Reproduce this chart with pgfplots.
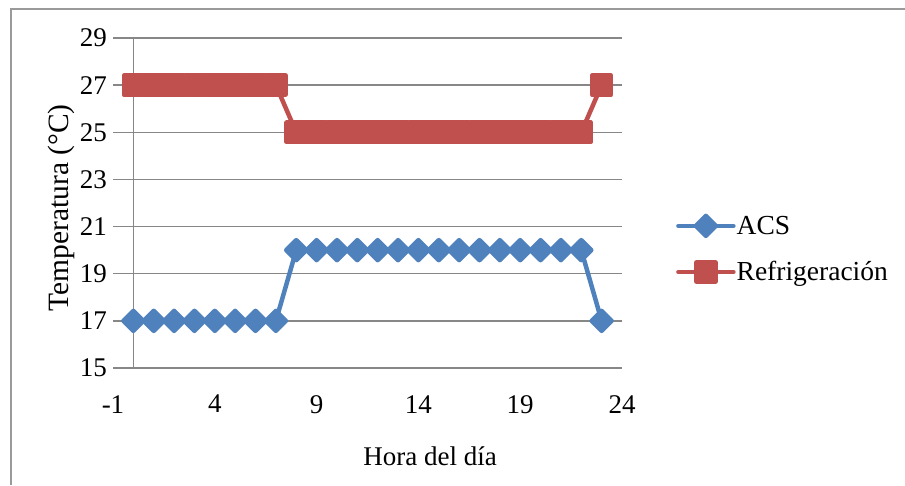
\documentclass[border=0pt]{standalone}
\usepackage{pgfplots}
\pgfplotsset{compat=1.18}
\usepackage{fontspec}
\setmainfont{Liberation Serif}
\definecolor{acs}{HTML}{4F81BD}
\definecolor{ref}{HTML}{C0504D}
\definecolor{gridc}{HTML}{878787}
\definecolor{framec}{HTML}{9A9A9A}
\begin{document}
\begin{tikzpicture}[x=1pt,y=1pt]
\useasboundingbox (0,0) rectangle (905,485);
\draw[framec, line width=1.2pt] (11,0) -- (11,476) -- (905,476);
\begin{axis}[
  at={(113pt,117pt)}, anchor=south west,
  scale only axis, width=509pt, height=330pt,
  xmin=-1, xmax=24, ymin=15, ymax=29,
  xtick={-1,4,9,14,19,24}, xticklabels={-1,4,9,14,19,24},
  ytick={15,17,19,21,23,25,27,29}, yticklabels={15,17,19,21,23,25,27,29},
  axis line style={draw=none},
  major tick length=0pt,
  ymajorgrids, grid style={gridc, line width=1.5pt},
  font=\fontsize{27}{30}\selectfont,
  yticklabel style={anchor=east, inner sep=0pt, xshift=-6pt},
  xticklabel style={anchor=north, inner sep=0pt, yshift=-27pt},
  xlabel={Hora del día},
  ylabel={Temperatura (°C)},
  xlabel style={at={(axis description cs:0.623,-0.268)}, anchor=center, inner sep=0pt, font=\fontsize{27}{30}\selectfont},
  ylabel style={at={(axis description cs:-0.102,0.485)}, anchor=center, inner sep=0pt, font=\fontsize{29.5}{30}\selectfont},
  clip=false,
  legend style={at={(1.106,0.354)}, anchor=west, draw=none, fill=none, inner sep=0pt,
    row sep=22pt, column sep=1pt,
    nodes={inner sep=0pt, text height=18pt, text depth=6pt},
    font=\fontsize{27.5}{30}\selectfont},
  legend cell align=left,
  legend image code/.code={\draw[mark repeat=2,mark phase=2,#1] plot coordinates {(0pt,2.5pt) (27.5pt,2.5pt) (55pt,2.5pt)};},
]
\draw[gridc, line width=1.5pt] (axis cs:0,15) -- (axis cs:0,29);
\addplot[acs, line width=4.5pt, line cap=round, line join=round, mark=square*, mark size=7.07pt,
  mark options={rotate=45, fill=acs, draw=none}] coordinates {
(0,17) (1,17) (2,17) (3,17) (4,17) (5,17) (6,17) (7,17)
(8,20) (9,20) (10,20) (11,20) (12,20) (13,20) (14,20) (15,20)
(16,20) (17,20) (18,20) (19,20) (20,20) (21,20) (22,20) (23,17)};
\addlegendentry{ACS}
\addplot[ref, line width=4.5pt, line cap=round, line join=round, mark=square*, mark size=9.6pt,
  mark options={fill=ref, draw=none}] coordinates {
(0,27) (1,27) (2,27) (3,27) (4,27) (5,27) (6,27) (7,27)
(8,25) (9,25) (10,25) (11,25) (12,25) (13,25) (14,25) (15,25)
(16,25) (17,25) (18,25) (19,25) (20,25) (21,25) (22,25) (23,27)};
\addlegendentry{Refrigeración}
\end{axis}
\end{tikzpicture}
\end{document}
